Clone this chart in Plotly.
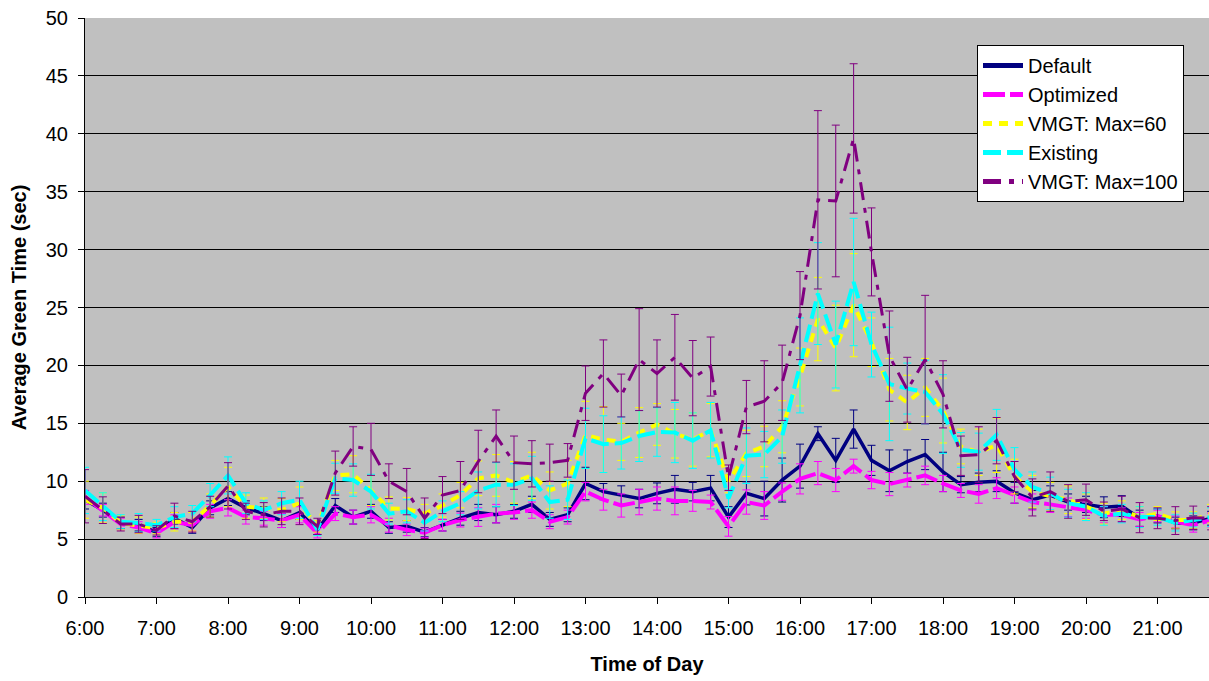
import plotly.graph_objects as go

# 15-minute time slots from 6:00 to 21:45
time_hours = [6 + i * 0.25 for i in range(64)]
tick_vals = list(range(6, 22))
tick_text = [f"{h}:00" for h in tick_vals]

default = [8.4, 7.5, 6.4, 6.2, 5.6, 6.8, 6.0, 7.7, 8.5, 7.7,
           7.2, 6.6, 7.3, 5.8, 7.9, 6.9, 7.4, 6.0, 6.1, 5.6,
           6.2, 6.8, 7.3, 7.1, 7.4, 8.0, 6.7, 7.1, 9.8, 9.1,
           8.8, 8.5, 8.95, 9.3, 9.1, 9.4, 6.9, 8.95, 8.5, 10.1,
           11.3, 14.1, 11.8, 14.5, 11.8, 10.9, 11.7, 12.3, 10.8, 9.7,
           9.9, 10.0, 9.0, 8.4, 8.8, 8.2, 8.0, 7.75, 7.85, 6.8,
           7.0, 6.4, 6.4, 6.8]
default_err = [0.8, 0.6, 0.5, 0.5, 0.4, 0.5, 0.5, 0.6, 0.6, 0.6,
               0.6, 0.6, 0.6, 0.4, 0.6, 0.6, 0.6, 0.5, 0.5, 0.4,
               0.5, 0.6, 0.7, 0.7, 0.6, 0.7, 0.6, 0.6, 1.4, 0.7,
               0.8, 0.8, 0.9, 1.2, 0.8, 1.1, 0.9, 1.0, 1.5, 1.9,
               1.9, 0.6, 1.9, 1.65, 1.3, 1.8, 1.0, 1.3, 1.7, 0.7,
               0.8, 0.9, 0.9, 0.8, 0.8, 0.7, 0.7, 0.9, 0.9, 0.7,
               0.6, 0.5, 0.6, 0.6]

optimized = [8.6, 7.5, 6.3, 6.0, 5.5, 6.5, 6.2, 7.4, 7.7, 6.9,
             6.8, 6.6, 7.1, 5.5, 7.2, 6.9, 7.1, 6.2, 5.8, 5.55,
             6.2, 6.65, 6.9, 7.2, 7.3, 7.5, 6.5, 6.9, 9.1, 8.4,
             7.9, 8.2, 8.5, 8.3, 8.3, 8.2, 6.1, 8.2, 7.9, 9.1,
             10.2, 10.7, 10.1, 11.3, 10.1, 9.75, 10.1, 10.5, 9.8, 9.2,
             8.9, 9.4, 8.8, 8.2, 8.0, 7.75, 7.5, 7.1, 7.1, 6.7,
             7.0, 6.5, 6.2, 6.65]
optimized_err = [0.6, 0.5, 0.5, 0.5, 0.4, 0.6, 0.5, 0.6, 0.7, 0.6,
                 0.6, 0.6, 0.7, 0.4, 0.6, 0.6, 0.7, 0.6, 0.5, 0.4,
                 0.5, 0.6, 0.8, 0.8, 0.6, 0.7, 0.6, 0.6, 0.8, 0.9,
                 1.0, 1.1, 1.0, 1.2, 0.9, 0.6, 0.85, 1.05, 1.2, 0.75,
                 1.3, 1.0, 1.0, 0.6, 0.75, 1.0, 0.6, 0.8, 0.7, 0.6,
                 0.8, 0.9, 0.7, 0.7, 0.7, 0.8, 0.7, 0.7, 0.6, 0.6,
                 0.5, 0.5, 0.6, 0.6]

vmgt60 = [8.4, 7.7, 6.4, 6.2, 5.95, 6.5, 6.5, 7.9, 9.5, 7.8,
          7.65, 7.5, 8.1, 6.1, 10.5, 10.6, 9.2, 7.65, 7.6, 7.2,
          7.9, 8.8, 10.25, 10.5, 9.9, 10.5, 9.2, 9.8, 14.0, 13.6,
          13.4, 14.2, 14.9, 14.1, 13.6, 14.4, 10.0, 12.4, 13.0, 14.7,
          19.0, 24.0, 21.5, 25.2, 22.0, 17.9, 16.8, 18.1, 16.1, 13.0,
          12.5, 13.1, 10.4, 9.1, 8.7, 8.4, 7.8, 7.2, 7.5, 6.9,
          7.2, 6.65, 6.65, 7.2]
vmgt60_err = [1.6, 1.3, 0.6, 0.7, 0.5, 0.8, 0.8, 1.0, 1.7, 1.0,
              0.9, 1.0, 1.4, 0.5, 1.3, 1.6, 1.3, 1.0, 1.0, 0.8,
              1.0, 1.1, 1.5, 1.8, 1.8, 2.0, 1.6, 2.0, 2.9, 2.85,
              1.6, 2.15, 1.8, 2.1, 2.3, 2.3, 1.0, 2.0, 1.75, 2.25,
              2.5, 3.6, 3.7, 4.45, 2.1, 2.7, 2.35, 2.5, 2.8, 1.5,
              2.0, 2.35, 1.5, 1.4, 1.2, 1.2, 1.1, 0.9, 0.8, 0.9,
              0.6, 0.7, 0.7, 0.8]

existing = [9.2, 7.8, 6.5, 6.4, 6.2, 6.9, 7.2, 8.8, 10.5, 8.1,
            7.5, 8.1, 8.4, 5.8, 10.25, 10.1, 9.1, 7.2, 7.4, 6.4,
            7.4, 8.1, 9.2, 9.7, 9.7, 10.25, 8.2, 8.4, 13.7, 13.2,
            13.3, 13.9, 14.25, 14.2, 13.5, 14.4, 8.5, 12.2, 12.3, 13.85,
            20.0, 26.2, 21.8, 27.2, 21.8, 18.4, 18.0, 17.7, 15.8, 12.7,
            12.55, 14.0, 11.0, 9.5, 8.95, 8.1, 7.8, 7.0, 7.2, 6.9,
            6.9, 6.4, 6.65, 6.9]
existing_err = [2.0, 1.2, 0.6, 0.8, 0.5, 0.9, 0.7, 1.0, 1.6, 0.9,
                0.8, 1.0, 1.6, 0.5, 1.3, 1.4, 1.5, 0.9, 1.0, 0.7,
                0.9, 1.0, 1.6, 1.9, 1.8, 1.9, 1.4, 1.7, 2.6, 2.45,
                2.25, 2.2, 2.1, 2.6, 2.4, 2.4, 0.8, 2.4, 2.0, 2.3,
                4.1, 4.4, 3.75, 5.5, 2.8, 4.9, 2.2, 2.75, 3.4, 1.5,
                1.6, 2.2, 1.9, 1.3, 1.4, 1.2, 1.2, 0.8, 0.8, 0.9,
                0.7, 0.7, 0.6, 0.8]

vmgt100 = [8.7, 7.5, 6.3, 6.3, 5.75, 7.0, 6.5, 7.8, 9.6, 7.4,
           7.1, 7.4, 7.4, 6.1, 10.7, 13.0, 12.75, 10.0, 9.1, 6.8,
           8.8, 9.2, 11.7, 13.9, 11.6, 11.5, 11.6, 11.8, 17.6, 19.3,
           17.4, 20.5, 19.3, 20.7, 18.9, 19.9, 10.3, 16.4, 16.9, 18.5,
           24.3, 34.3, 34.2, 39.6, 29.8, 20.8, 17.9, 20.5, 17.5, 12.2,
           12.3, 13.5, 10.4, 8.6, 9.1, 8.25, 8.4, 7.4, 7.6, 6.85,
           6.8, 6.6, 6.85, 6.8]
vmgt100_err = [2.3, 1.15, 0.6, 0.75, 0.4, 1.1, 0.9, 0.9, 2.0, 0.7,
               1.05, 1.15, 1.15, 0.7, 1.9, 1.7, 2.25, 1.5, 2.0, 1.75,
               1.6, 2.5, 2.7, 2.25, 2.3, 2.0, 1.6, 1.45, 2.35, 2.9,
               1.85, 4.4, 2.9, 3.7, 3.25, 2.55, 1.1, 2.3, 3.5, 3.25,
               3.8, 7.7, 6.55, 6.45, 3.8, 3.9, 2.8, 5.55, 2.9, 1.7,
               2.4, 2.0, 1.3, 1.6, 1.7, 1.45, 1.35, 0.8, 1.1, 1.3,
               0.9, 1.2, 1.0, 1.0]

series = [
    ("Default", default, default_err, "#000080", "solid", 3.5),
    ("Optimized", optimized, optimized_err, "#FF00FF", "22px,5px", 4),
    ("VMGT: Max=60", vmgt60, vmgt60_err, "#FFFF00", "9px,7px", 4),
    ("Existing", existing, existing_err, "#00FFFF", "18px,6px", 4),
    ("VMGT: Max=100", vmgt100, vmgt100_err, "#800080", "18px,8px,5px,8px", 3),
]

FONT = "Liberation Sans, Arial, sans-serif"

fig = go.Figure()
for name, vals, errs, color, dash, w in series:
    fig.add_trace(go.Scatter(
        x=time_hours, y=vals, name=name, mode="lines",
        line=dict(color=color, width=w, dash=dash),
        error_y=dict(type="data", array=errs, visible=True,
                     color=color, thickness=1, width=4),
    ))

fig.update_layout(
    width=1209, height=681,
    margin=dict(l=85, r=0, t=18, b=84),
    paper_bgcolor="white",
    plot_bgcolor="#C0C0C0",
    font=dict(family=FONT, size=20, color="black"),
    showlegend=True,
    legend=dict(
        x=(977 - 85) / 1124, y=(597 - 45) / 579, xanchor="left", yanchor="top",
        bgcolor="white", bordercolor="black", borderwidth=1,
        font=dict(family=FONT, size=20, color="black"),
        tracegroupgap=0, itemsizing="constant", itemwidth=40,
    ),
    xaxis=dict(
        range=[6, 6 + 1124 / 71.5],
        automargin=False,
        tickmode="array", tickvals=tick_vals, ticktext=tick_text,
        ticks="outside", ticklen=6, tickcolor="black", tickwidth=1,
        ticklabelstandoff=7,
        showline=True, linecolor="black", linewidth=1,
        showgrid=False, zeroline=False,
        tickfont=dict(family=FONT, size=20),
        title=dict(text="<b>Time of Day</b>", font=dict(family=FONT, size=20), standoff=18),
    ),
    yaxis=dict(
        range=[0, 50], dtick=5, tick0=0,
        automargin=False,
        ticks="outside", ticklen=6, tickcolor="black", tickwidth=1,
        ticklabelstandoff=6,
        showline=True, linecolor="black", linewidth=1,
        showgrid=True, gridcolor="black", gridwidth=1,
        zeroline=False,
        tickfont=dict(family=FONT, size=20),
        title=dict(text="<b>Average Green Time (sec)</b>", font=dict(family=FONT, size=20), standoff=13),
    ),
)

fig.write_html(
    "out.html",
    config={"displayModeBar": False},
    post_script="document.body.style.margin='0';document.body.style.overflow='hidden';",
)
